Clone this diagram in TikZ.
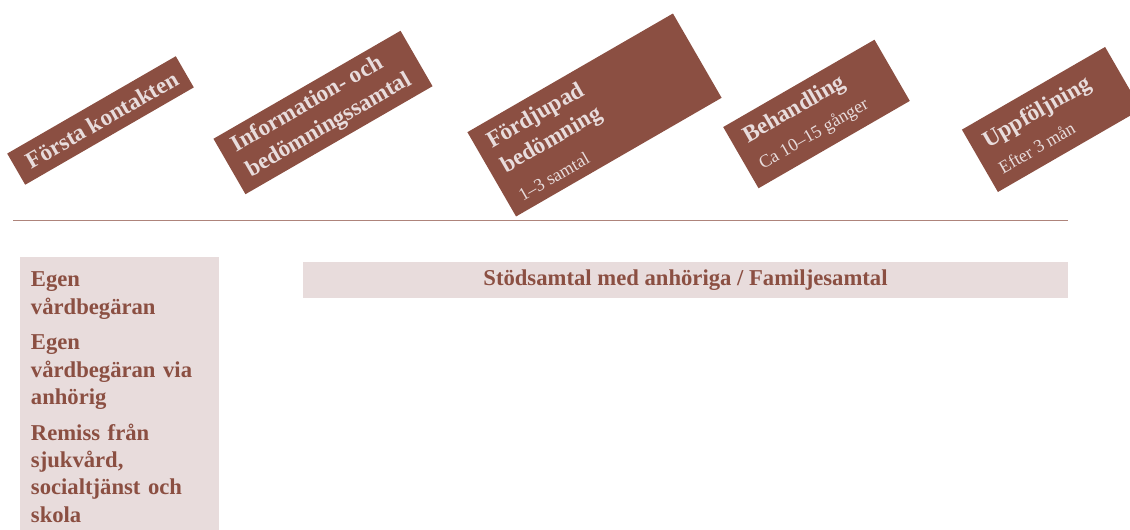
\documentclass[tikz,border=0pt]{standalone}
\usepackage{fontspec}
\setmainfont{Liberation Serif}
\definecolor{rust}{HTML}{8B4F42}
\definecolor{blush}{HTML}{E8DCDC}
\newcommand{\stagesub}[1]{{\mdseries\fontsize{13.5}{16}\selectfont #1}}
\tikzset{
  stagebox/.style={fill=rust, rotate=30, inner sep=0pt},
  stagetext/.style={text=blush, rotate=30, align=left, inner xsep=10pt,
    font=\bfseries\fontsize{17.5}{21.5}\selectfont},
  lightbox/.style={fill=blush, text=rust, font=\bfseries\fontsize{17}{20.6}\selectfont},
}
\begin{document}
\begin{tikzpicture}[x=0.75pt,y=0.75pt]
  \useasboundingbox (0,0) rectangle (1130,530);
  %% stages
  \node[stagebox, minimum width=146pt, minimum height=27pt] (first) at (100.5,409.5) {};
  \node[stagetext, anchor=west] (firsttext) at (first.west) {Första kontakten};
  \node[stagebox, minimum width=162pt, minimum height=48pt] (info) at (323,417.5) {};
  \node[stagetext, anchor=west] (infotext) at (info.west) {Information- och\\bedömningssamtal};
  \node[stagebox, minimum width=178pt, minimum height=73pt] (deep) at (594.5,415) {};
  \node[stagetext, anchor=south west, inner ysep=7pt] (deeptext) at (deep.south west)
    {Fördjupad\\bedömning\\[3pt]\stagesub{1--3 samtal}};
  \node[stagebox, minimum width=131pt, minimum height=53pt] (treat) at (816.5,416) {};
  \node[stagetext, anchor=west] (treattext) at (treat.west) {Behandling\\[1pt]\stagesub{Ca 10--15 gånger}};
  \node[stagebox, minimum width=124pt, minimum height=54pt] (follow) at (1051.5,410.5) {};
  \node[stagetext, anchor=west] (followtext) at (follow.west) {Uppföljning\\[1pt]\stagesub{Efter 3 mån}};
  %% divider
  \coordinate (rulestart) at (13,310);
  \coordinate (ruleend) at (1068,310);
  \draw[rust!70, line width=0.6pt] (rulestart) -- (ruleend);
  %% referral routes
  \node[lightbox, anchor=north west, text width=133pt, align=left, inner xsep=8pt, inner ysep=4pt,
    minimum width=148.5pt, minimum height=210pt] (routes) at (20,273)
    {Egen\\vårdbegäran\\[6pt]Egen\\vårdbegäran via\\anhörig\\[6pt]Remiss från\\sjukvård,\\socialtjänst och\\skola};
  %% support talks
  \node[lightbox, minimum width=573.75pt, minimum height=27pt] (support) at (685.5,250)
    {Stödsamtal med anhöriga / Familjesamtal};
\end{tikzpicture}
\end{document}
